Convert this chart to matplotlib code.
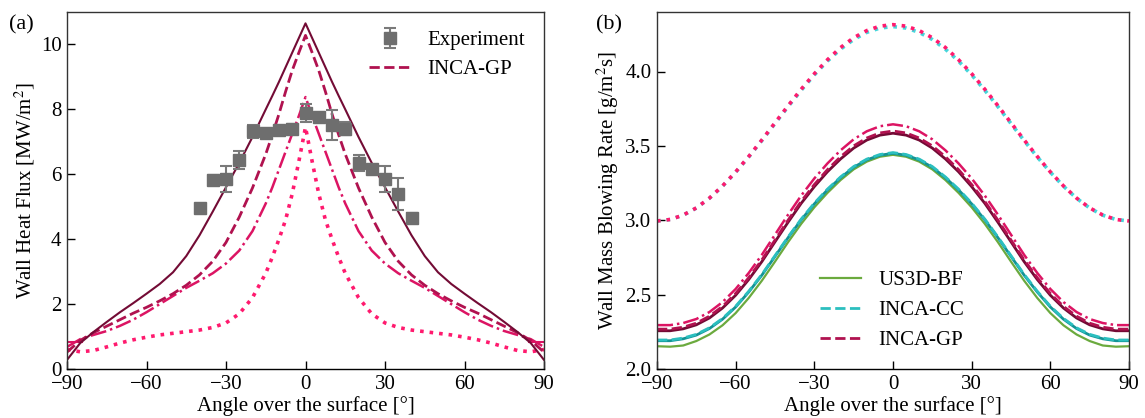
import numpy as np
import matplotlib
matplotlib.use("Agg")
import matplotlib.pyplot as plt

plt.rcParams['font.family'] = ['Liberation Serif', 'DejaVu Serif']
plt.rcParams['mathtext.fontset'] = 'stix'

# ---------------- Panel (a): wall heat flux ----------------
angle_a = [-90, -85, -80, -75, -70, -65, -60, -55, -50, -45, -40, -35, -30, -25, -20, -15,
           -12.5, -10, -7.5, -5, -2.5, 0, 2.5, 5, 7.5, 10, 12.5,
           15, 20, 25, 30, 35, 40, 45, 50, 55, 60, 65, 70, 75, 80, 85, 90]

flux_solid = [0.28, 0.80, 1.14, 1.45, 1.75, 2.03, 2.32, 2.62, 2.98, 3.48, 4.12, 4.85, 5.60, 6.35, 7.15, 8.00,
              8.42, 8.85, 9.30, 9.75, 10.20, 10.65, 10.20, 9.75, 9.30, 8.85, 8.42,
              8.00, 7.15, 6.35, 5.60, 4.85, 4.12, 3.48, 2.98, 2.62, 2.32, 2.03, 1.75, 1.45, 1.14, 0.80, 0.28]

flux_dashed = [0.52, 0.88, 1.12, 1.32, 1.52, 1.72, 1.90, 2.10, 2.32, 2.58, 2.90, 3.32, 3.90, 4.68, 5.58, 6.62,
               7.22, 7.86, 8.55, 9.20, 9.75, 10.28, 9.75, 9.20, 8.55, 7.86, 7.22,
               6.62, 5.58, 4.68, 3.90, 3.32, 2.90, 2.58, 2.32, 2.10, 1.90, 1.72, 1.52, 1.32, 1.12, 0.88, 0.52]

flux_dashdot = [0.68, 0.92, 1.05, 1.17, 1.33, 1.52, 1.75, 2.00, 2.25, 2.50, 2.72, 2.95, 3.25, 3.65, 4.25, 5.10,
                5.60, 6.15, 6.70, 7.25, 7.80, 8.38, 7.80, 7.25, 6.70, 6.15, 5.60,
                5.10, 4.25, 3.65, 3.25, 2.95, 2.72, 2.50, 2.25, 2.00, 1.75, 1.52, 1.33, 1.17, 1.05, 0.92, 0.68]

flux_dotted = [0.60, 0.53, 0.57, 0.68, 0.80, 0.90, 0.98, 1.05, 1.10, 1.15, 1.20, 1.28, 1.42, 1.70, 2.20, 2.95,
               3.45, 4.00, 4.60, 5.40, 6.40, 7.45, 6.40, 5.40, 4.60, 4.00, 3.45,
               2.95, 2.20, 1.70, 1.42, 1.28, 1.20, 1.15, 1.10, 1.05, 0.98, 0.90, 0.80, 0.68, 0.57, 0.53, 0.60]

edge_angle = [-90, -84.4, np.nan, 84.4, 90]
edge_flux = [0.84, 0.84, np.nan, 0.82, 0.82]

exp_angle = [-40, -35, -30, -25, -20, -15, -10, -5, 0, 5, 10, 15, 20, 25, 30, 35, 40]
exp_flux = [4.95, 5.82, 5.85, 6.45, 7.32, 7.26, 7.35, 7.40, 7.90, 7.75, 7.52, 7.40, 6.35, 6.15, 5.85, 5.40, 4.65]
exp_err = [0.12, 0.15, 0.40, 0.28, 0.20, 0.12, 0.15, 0.15, 0.28, 0.15, 0.45, 0.20, 0.25, 0.15, 0.40, 0.50, 0.15]

# ---------------- Panel (b): wall mass blowing rate ----------------
angle_b = [-90, -85, -80, -75, -70, -65, -60, -55, -50, -45, -40, -35, -30, -25, -20, -15, -10, -5,
           0, 5, 10, 15, 20, 25, 30, 35, 40, 45, 50, 55, 60, 65, 70, 75, 80, 85, 90]

gp_solid = [2.257, 2.257, 2.270, 2.297, 2.343, 2.410, 2.496, 2.602, 2.722, 2.855, 2.987, 3.114, 3.226, 3.326,
            3.412, 3.485, 3.539, 3.572, 3.585, 3.572, 3.539, 3.485, 3.412, 3.326, 3.226, 3.114, 2.987, 2.855,
            2.722, 2.602, 2.496, 2.410, 2.343, 2.297, 2.270, 2.257, 2.257]
gp_dashed = [2.268, 2.268, 2.281, 2.308, 2.355, 2.421, 2.508, 2.614, 2.734, 2.867, 3.001, 3.127, 3.240, 3.340,
             3.427, 3.500, 3.553, 3.587, 3.600, 3.587, 3.553, 3.500, 3.427, 3.340, 3.240, 3.127, 3.001, 2.867,
             2.734, 2.614, 2.508, 2.421, 2.355, 2.308, 2.281, 2.268, 2.268]
gp_dashdot = [2.295, 2.295, 2.309, 2.336, 2.383, 2.450, 2.538, 2.646, 2.768, 2.903, 3.038, 3.166, 3.281, 3.382,
              3.470, 3.544, 3.598, 3.632, 3.645, 3.632, 3.598, 3.544, 3.470, 3.382, 3.281, 3.166, 3.038, 2.903,
              2.768, 2.646, 2.538, 2.450, 2.383, 2.336, 2.309, 2.295, 2.295]
gp_dotted = [2.995, 3.005, 3.035, 3.083, 3.149, 3.231, 3.325, 3.429, 3.540, 3.655, 3.770, 3.881, 3.985, 4.079,
             4.161, 4.227, 4.275, 4.305, 4.315, 4.305, 4.275, 4.227, 4.161, 4.079, 3.985, 3.881, 3.770, 3.655,
             3.540, 3.429, 3.325, 3.231, 3.149, 3.083, 3.035, 3.005, 2.995]
cc_solid = [2.190, 2.190, 2.203, 2.228, 2.272, 2.335, 2.417, 2.518, 2.631, 2.757, 2.883, 3.003, 3.110, 3.204,
            3.286, 3.356, 3.406, 3.437, 3.450, 3.437, 3.406, 3.356, 3.286, 3.204, 3.110, 3.003, 2.883, 2.757,
            2.631, 2.518, 2.417, 2.335, 2.272, 2.228, 2.203, 2.190, 2.190]
cc_dashed = [2.195, 2.195, 2.208, 2.233, 2.277, 2.340, 2.422, 2.523, 2.636, 2.762, 2.888, 3.008, 3.115, 3.209,
             3.291, 3.361, 3.411, 3.442, 3.455, 3.442, 3.411, 3.361, 3.291, 3.209, 3.115, 3.008, 2.888, 2.762,
             2.636, 2.523, 2.422, 2.340, 2.277, 2.233, 2.208, 2.195, 2.195]
cc_dotted = [2.995, 3.005, 3.034, 3.082, 3.148, 3.229, 3.323, 3.426, 3.536, 3.650, 3.764, 3.874, 3.977, 4.070,
             4.150, 4.215, 4.263, 4.292, 4.302, 4.292, 4.263, 4.215, 4.150, 4.070, 3.977, 3.874, 3.764, 3.650,
             3.536, 3.426, 3.323, 3.229, 3.148, 3.082, 3.034, 3.005, 2.995]
us3d = [2.153, 2.150, 2.158, 2.188, 2.232, 2.294, 2.376, 2.478, 2.594, 2.722, 2.853, 2.976, 3.087, 3.184,
        3.270, 3.342, 3.394, 3.427, 3.440, 3.427, 3.394, 3.342, 3.270, 3.184, 3.087, 2.976, 2.853, 2.722,
        2.594, 2.478, 2.376, 2.294, 2.232, 2.188, 2.158, 2.150, 2.153]

xticks = [-90, -60, -30, 0, 30, 60, 90]
xticklabels = ['\u221290', '\u221260', '\u221230', '0', '30', '60', '90']

# colours
c_maroon = '#730B35'
c_crimson = '#B0124F'
c_dashdot = '#DC1463'
c_hotpink = '#FF1A6E'
c_green = '#6BAA3E'
c_teal = '#139496'
c_cyan = '#2BBFBF'
c_cyandot = '#45D6DB'
c_grey = '#6E6E6E'

fs = 15
fig = plt.figure(figsize=(11.45, 4.18), dpi=100)
axA = fig.add_axes([67/1145, 1-369/418, (544-67)/1145, (369-12)/418])
axB = fig.add_axes([657/1145, 1-369/418, (1129-657)/1145, (369-12)/418])

# ---- (a)
axA.plot(angle_a, flux_dotted, ':', color=c_hotpink, lw=2.6)
axA.plot(angle_a, flux_dashdot, '-.', color=c_dashdot, lw=1.8)
axA.plot(edge_angle, edge_flux, '-', color=c_dashdot, lw=1.5)
axA.plot(angle_a, flux_dashed, '--', color=c_crimson, lw=2.0, label='INCA-GP')
axA.plot(angle_a, flux_solid, '-', color=c_maroon, lw=1.5)
axA.errorbar(exp_angle, exp_flux, yerr=exp_err, fmt='s', color=c_grey, ecolor='#7a7a7a',
             markersize=8, capsize=4.5, elinewidth=1.5, capthick=1.5, label='Experiment')
axA.set_xlim(-90, 90)
axA.set_ylim(0, 11)
axA.set_xticks(xticks)
axA.set_yticks([0, 2, 4, 6, 8, 10])
axA.set_xticklabels(xticklabels)
axA.set_xlabel('Angle over the surface [\u00b0]', fontsize=fs, labelpad=2)
axA.set_ylabel('Wall Heat Flux [MW/m$^2$]', fontsize=fs, labelpad=3)
h, l = axA.get_legend_handles_labels()
order = [l.index('Experiment'), l.index('INCA-GP')]
axA.legend([h[i] for i in order], [l[i] for i in order], loc='upper right', frameon=False,
           fontsize=fs, bbox_to_anchor=(1.0, 1.0), handlelength=2.0, labelspacing=0.45)
axA.text(-0.122, 0.99, '(a)', transform=axA.transAxes, fontsize=fs + 1, va='top', ha='left')

# ---- (b)
axB.plot(angle_b, us3d, '-', color=c_green, lw=1.6, label='US3D-BF')
axB.plot(angle_b, cc_solid, '-', color=c_teal, lw=2.0)
axB.plot(angle_b, cc_dashed, '--', color=c_cyan, lw=2.0, label='INCA-CC')
axB.plot(angle_b, cc_dotted, ':', color=c_cyandot, lw=2.6)
axB.plot(angle_b, gp_solid, '-', color=c_maroon, lw=2.0)
axB.plot(angle_b, gp_dashed, '--', color=c_crimson, lw=2.0, label='INCA-GP')
axB.plot(angle_b, gp_dashdot, '-.', color=c_dashdot, lw=1.8)
axB.plot(angle_b, gp_dotted, ':', color=c_hotpink, lw=2.6)
axB.set_xlim(-90, 90)
axB.set_ylim(2.0, 4.4)
axB.set_xticks(xticks)
axB.set_yticks([2.0, 2.5, 3.0, 3.5, 4.0])
axB.set_yticklabels(['2.0', '2.5', '3.0', '3.5', '4.0'])
axB.set_xticklabels(xticklabels)
axB.set_xlabel('Angle over the surface [\u00b0]', fontsize=fs, labelpad=2)
axB.set_ylabel('Wall Mass Blowing Rate [g/m$^2$s]', fontsize=fs, labelpad=3)
axB.legend(loc='lower left', frameon=False, fontsize=fs, bbox_to_anchor=(0.305, 0.0),
           handlelength=2.0, labelspacing=0.5)
axB.text(-0.13, 0.99, '(b)', transform=axB.transAxes, fontsize=fs + 1, va='top', ha='left')

for ax in (axA, axB):
    ax.tick_params(axis='both', which='major', direction='in', length=6, width=1.0,
                   labelsize=fs, top=False, right=False, pad=4)
    for s in ax.spines.values():
        s.set_linewidth(1.0)
        s.set_color('#333333')
    ax.spines['bottom'].set_color('black')

fig.savefig('out.png', dpi=100)
